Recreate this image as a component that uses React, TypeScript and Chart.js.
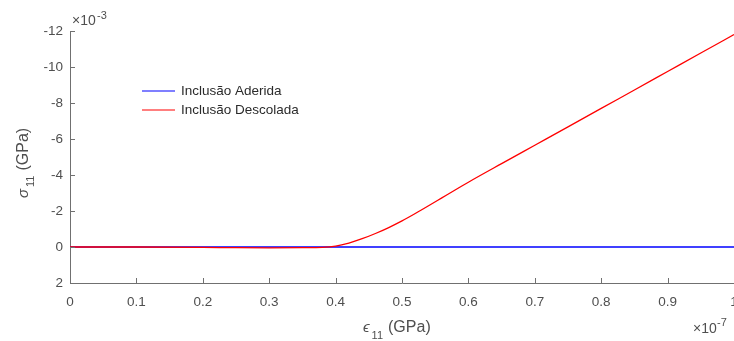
import React, { useEffect, useRef } from "react";
import { Chart, registerables } from "chart.js";

Chart.register(...registerables);

// strain values (x 1e-7)
const strainX = [0, 0.1, 0.2, 0.25, 0.3, 0.35, 0.38, 0.4, 0.42, 0.44, 0.46, 0.48, 0.5, 0.52, 0.54, 0.56, 0.58, 0.6, 0.65, 0.7, 0.75, 0.8, 0.85, 0.9, 0.95, 1.0];
// stress, bonded inclusion (x 1e-3)
const bondedY = [0, 0, 0, 0, 0, 0, 0, 0, 0, 0, 0, 0, 0, 0, 0, 0, 0, 0, 0, 0, 0, 0, 0, 0, 0, 0];
// stress, debonded inclusion (x 1e-3)
const debondedY = [0, 0, 0.02, 0.04, 0.05, 0.04, 0.02, -0.05, -0.22, -0.46, -0.75, -1.08, -1.45, -1.86, -2.29, -2.73, -3.17, -3.6, -4.63, -5.65, -6.67, -7.7, -8.72, -9.75, -10.78, -11.8];

const seriesLabels = ["Inclusão Aderida", "Inclusão Descolada"];
const seriesColors = ["#0000ff", "#ff0000"];
const xTicks = [0, 0.1, 0.2, 0.3, 0.4, 0.5, 0.6, 0.7, 0.8, 0.9, 1];
const yTicks = [-12, -10, -8, -6, -4, -2, 0, 2];

const FONT = "'Liberation Sans', Arial, Helvetica, sans-serif";
const AXIS_COLOR = "#707070";
const TEXT_COLOR = "#4f4f4f";

const decorPlugin = {
  id: "decor",
  afterDraw(chart: any) {
    const ctx = chart.ctx;
    const area = chart.chartArea;
    const xs = chart.scales.x;
    const ys = chart.scales.y;
    ctx.save();
    // inward ticks
    ctx.strokeStyle = AXIS_COLOR;
    ctx.lineWidth = 1;
    ctx.beginPath();
    xs.ticks.forEach((t: any) => {
      const px = Math.round(xs.getPixelForValue(t.value)) + 0.5;
      ctx.moveTo(px, area.bottom);
      ctx.lineTo(px, area.bottom - 5);
    });
    ys.ticks.forEach((t: any) => {
      const py = Math.round(ys.getPixelForValue(t.value)) + 0.5;
      ctx.moveTo(area.left, py);
      ctx.lineTo(area.left + 5, py);
    });
    ctx.stroke();

    ctx.fillStyle = TEXT_COLOR;
    ctx.textBaseline = "alphabetic";
    ctx.textAlign = "left";
    // y exponent
    ctx.font = `14px ${FONT}`;
    ctx.fillText("×10", 72, 25);
    ctx.font = `11px ${FONT}`;
    ctx.fillText("-3", 97, 19);
    // x exponent
    ctx.font = `14px ${FONT}`;
    ctx.fillText("×10", 693, 333);
    ctx.font = `11px ${FONT}`;
    ctx.fillText("-7", 717, 326);

    // x title
    let x = 363;
    ctx.font = `italic 15px ${FONT}`;
    ctx.fillText("ϵ", x, 332);
    x += ctx.measureText("ϵ").width + 2;
    ctx.font = `11px ${FONT}`;
    ctx.fillText("11", x, 339);
    x += ctx.measureText("11").width + 5;
    ctx.font = `16px ${FONT}`;
    ctx.fillText("(GPa)", x, 332);

    // y title rotated
    ctx.save();
    ctx.translate(28, 198);
    ctx.rotate(-Math.PI / 2);
    let yx = 0;
    ctx.font = `italic 15px ${FONT}`;
    ctx.fillText("σ", yx, 0);
    yx += ctx.measureText("σ").width + 2;
    ctx.font = `11px ${FONT}`;
    ctx.fillText("11", yx, 6);
    yx += ctx.measureText("11").width + 5;
    ctx.font = `16px ${FONT}`;
    ctx.fillText("(GPa)", yx, 0);
    ctx.restore();

    // legend
    chart.data.datasets.forEach((ds: any, i: number) => {
      const y = 91 + i * 19;
      ctx.strokeStyle = ds.borderColor;
      ctx.lineWidth = 1.2;
      ctx.beginPath();
      ctx.moveTo(142, y);
      ctx.lineTo(175, y);
      ctx.stroke();
      ctx.fillStyle = "#2b2b2b";
      ctx.font = `13.5px ${FONT}`;
      ctx.textBaseline = "middle";
      ctx.fillText(ds.label, 181, y);
    });
    ctx.restore();
  },
};

export default function App() {
  const ref = useRef<HTMLCanvasElement | null>(null);
  useEffect(() => {
    document.body.style.margin = "0";
    if (!ref.current) return;
    const chart = new Chart(ref.current, {
      type: "line",
      data: {
        datasets: [
          {
            label: seriesLabels[0],
            data: strainX.map((x, i) => ({ x, y: bondedY[i] })),
            borderColor: seriesColors[0],
            borderWidth: 1.3,
            pointRadius: 0,
            order: 1,
          },
          {
            label: seriesLabels[1],
            data: strainX.map((x, i) => ({ x, y: debondedY[i] })),
            borderColor: seriesColors[1],
            borderWidth: 1.3,
            pointRadius: 0,
            cubicInterpolationMode: "monotone",
            order: 0,
          },
        ],
      },
      options: {
        animation: false,
        responsive: false,
        maintainAspectRatio: false,
        layout: { padding: { top: 31, right: 0, left: 0, bottom: 0 } },
        plugins: { legend: { display: false }, tooltip: { enabled: false } },
        scales: {
          x: {
            type: "linear",
            min: 0,
            max: 1,
            afterBuildTicks: (s: any) => {
              s.ticks = xTicks.map((v) => ({ value: v }));
            },
            afterFit: (s: any) => {
              s.height = 58;
              s.paddingLeft = 0;
              s.paddingRight = 0;
            },
            ticks: {
              color: TEXT_COLOR,
              font: { family: FONT, size: 13.5 },
              padding: 11,
              maxRotation: 0,
              autoSkip: false,
              callback: (v: any) => String(v),
            },
            grid: { drawOnChartArea: false, drawTicks: false },
            border: { display: true, color: AXIS_COLOR, width: 1 },
          },
          y: {
            type: "linear",
            min: -12,
            max: 2,
            reverse: true,
            afterBuildTicks: (s: any) => {
              s.ticks = yTicks.map((v) => ({ value: v }));
            },
            afterFit: (s: any) => {
              s.width = 70;
              s.paddingTop = 0;
              s.paddingBottom = 0;
            },
            ticks: {
              color: TEXT_COLOR,
              font: { family: FONT, size: 13.5 },
              padding: 7,
              autoSkip: false,
              callback: (v: any) => String(v),
            },
            grid: { drawOnChartArea: false, drawTicks: false },
            border: { display: true, color: AXIS_COLOR, width: 1 },
          },
        },
      },
      plugins: [decorPlugin],
    } as any);
    return () => chart.destroy();
  }, []);
  return (
    <div style={{ position: "absolute", left: 0, top: 0, width: 734, height: 341, background: "#fff" }}>
      <canvas ref={ref} width={734} height={341} style={{ width: 734, height: 341 }} />
    </div>
  );
}
